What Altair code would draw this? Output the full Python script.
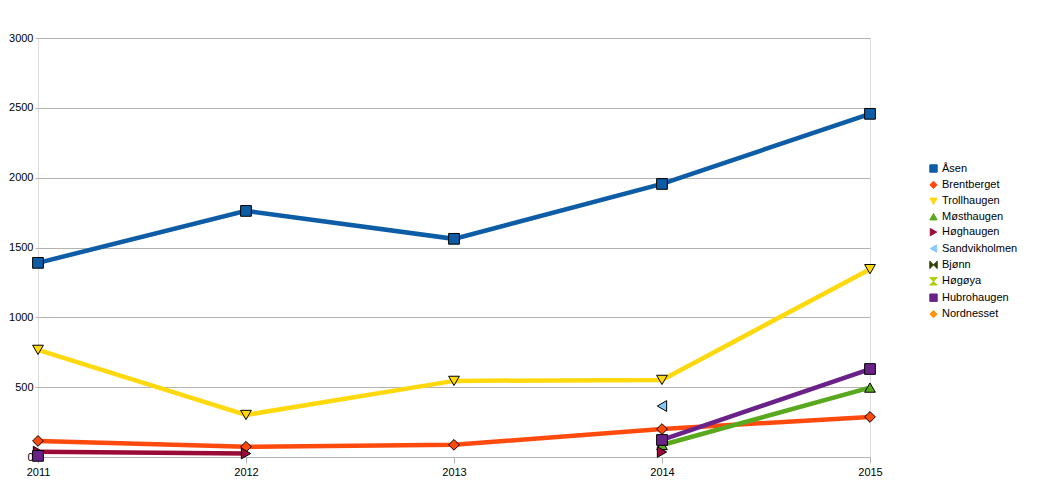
import altair as alt
import pandas as pd

years = [2011, 2012, 2013, 2014, 2015]
series_names = ["Åsen", "Brentberget", "Trollhaugen", "Møsthaugen", "Høghaugen",
                "Sandvikholmen", "Bjønn", "Høgøya", "Hubrohaugen", "Nordnesset"]

asen = [1390, 1762, 1562, 1955, 2457]
brentberget = [115, 73, 87, 200, 287]
trollhaugen = [767, 301, 545, 552, 1345]
mosthaugen = [None, None, None, 86, 497]
hoghaugen = [38, 25, None, 36, None]
sandvikholmen = [None, None, None, 365, None]
bjonn = [None, None, None, None, None]
hogoya = [None, None, None, None, None]
hubrohaugen = [8, None, None, 122, 630]
nordnesset = [None, None, None, None, None]

series_values = [asen, brentberget, trollhaugen, mosthaugen, hoghaugen,
                 sandvikholmen, bjonn, hogoya, hubrohaugen, nordnesset]

colors = ["#0d5ca6", "#ff4a0e", "#ffd80e", "#5aa81e", "#9a0b38",
          "#83caff", "#314004", "#aecf00", "#6a2289", "#ff950e"]
shapes = ["square", "diamond", "triangle-down", "triangle-up", "triangle-right",
          "triangle-left", "M-1,-1L1,1L1,-1L-1,1Z", "M-1,-1L1,-1L-1,1L1,1Z",
          "square", "diamond"]

rows = []
for name, vals in zip(series_names, series_values):
    seg = 0
    prev_none = True
    for yr, v in zip(years, vals):
        if v is None:
            prev_none = True
            continue
        if prev_none:
            seg += 1
        prev_none = False
        rows.append({"Year": yr, "Value": v, "Series": name, "Seg": f"{name}-{seg}"})
df = pd.DataFrame(rows)

FONT = "Liberation Sans"

def make_legend():
    return alt.Legend(title=None, orient="none", legendX=890, legendY=125,
                      labelFontSize=11, labelFont=FONT, labelColor="#000000",
                      symbolSize=55, rowPadding=3.4, labelOffset=3,
                      symbolStrokeColor="#000000", symbolStrokeWidth=1)

color_enc = alt.Color("Series:N",
                      scale=alt.Scale(domain=series_names, range=colors),
                      sort=series_names, legend=make_legend())
shape_enc = alt.Shape("Series:N",
                      scale=alt.Scale(domain=series_names, range=shapes),
                      sort=series_names, legend=make_legend())

x_enc = alt.X("Year:Q", scale=alt.Scale(domain=[2011, 2015], nice=False, zero=False),
              axis=alt.Axis(values=years, format="d", title=None, grid=False, domain=False,
                            labelFlush=False,
                            tickColor="#b3b3b3", tickSize=6, labelPadding=3,
                            labelFontSize=11, labelFont=FONT, labelColor="#000000"))
y_enc = alt.Y("Value:Q", scale=alt.Scale(domain=[0, 3000], nice=False),
              axis=alt.Axis(values=[0, 500, 1000, 1500, 2000, 2500, 3000], title=None,
                            format="d", labelFlush=False,
                            grid=True, gridColor="#b3b3b3", domain=False,
                            tickColor="#b3b3b3", tickSize=3, labelPadding=2,
                            labelFontSize=11, labelFont=FONT, labelColor="#000000"))

lines = alt.Chart(df).mark_line(strokeWidth=4.5).encode(
    x=x_enc, y=y_enc, color=color_enc, detail="Seg:N"
)
points = alt.Chart(df).mark_point(filled=True, size=115, stroke="#000000",
                                  strokeWidth=1, opacity=1).encode(
    x=x_enc, y=y_enc, color=color_enc, shape=shape_enc
)

chart = alt.layer(lines, points).properties(
    width=832, height=419,
    padding={"left": 0, "top": 24, "right": 5, "bottom": 5},
).configure_view(
    stroke="#b3b3b3", strokeWidth=1
).configure(
    background="#ffffff"
)

chart.save("out.html", embed_options={"renderer": "svg", "actions": False})
